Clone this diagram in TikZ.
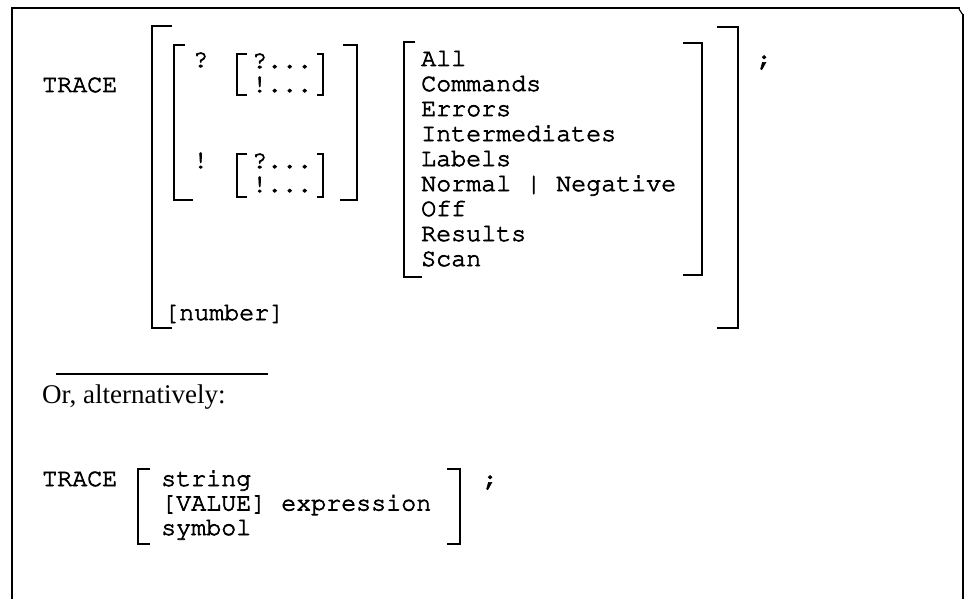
\documentclass[tikz,border=0pt]{standalone}
\usepackage[T1]{fontenc}
\usepackage{fontspec}
\setmainfont{Liberation Serif}
\newcommand{\courfam}{\fontencoding{T1}\fontfamily{pcr}\fontseries{m}\fontshape{n}}
\newcommand{\heavyon}{\special{pdf:literal direct 2 Tr 0.7 w}}
\newcommand{\heavyoff}{\special{pdf:literal direct 0 Tr}}
\begin{document}
\begin{tikzpicture}[x=1pt,y=-1pt,
  code/.style={font=\courfam\fontsize{25}{25}\selectfont, anchor=base west, inner sep=0pt,
    execute at begin node=\heavyon, execute at end node=\heavyoff},
  prose/.style={font=\fontsize{27}{27}\selectfont, anchor=base west, inner sep=0pt},
  brk/.style={line width=2.6pt, line cap=butt, line join=miter},
  frameline/.style={line width=2pt}]
\useasboundingbox (0,0) rectangle (965,599);
% frame
\draw[frameline] (12,599) -- (12,8) -- (960,8);
\draw[frameline] (963,14) -- (963,599);
\draw[line width=1.2pt] (959,9) -- (963,15);

% first syntax
\node[code] (trace1) at (42,92) {TRACE};
\draw[brk] (172,26) -- (152,26) -- (152,328) -- (172,328);
\draw[brk] (185,45) -- (174,45) -- (174,200) -- (193,200);
\draw[brk] (343,45) -- (357,45) -- (357,200) -- (340,200);
\node[code] (q) at (193,67) {?};
\node[code] (e) at (193,168) {!};
\draw[brk] (247,54) -- (237,54) -- (237,95) -- (247,95);
\draw[brk] (317,54) -- (323,54) -- (323,95) -- (317,95);
\node[code] (qa) at (252,68) {?...};
\node[code] (ea) at (252,92) {!...};
\draw[brk] (247,154) -- (237,154) -- (237,197) -- (247,197);
\draw[brk] (317,154) -- (323,154) -- (323,197) -- (317,197);
\node[code] (qb) at (252,168) {?...};
\node[code] (eb) at (252,192) {!...};
\node[code] (num) at (164,320) {[number]};
\draw[brk] (415,42) -- (404,42) -- (404,277) -- (422,277);
\draw[brk] (683,43) -- (702,43) -- (702,275) -- (683,275);
\node[code] (o1) at (421,66) {All};
\node[code] (o2) at (421,91) {Commands};
\node[code] (o3) at (421,116) {Errors};
\node[code] (o4) at (421,141) {Intermediates};
\node[code] (o5) at (421,166) {Labels};
\node[code] (o6) at (421,191) {Normal | Negative};
\node[code] (o7) at (421,216) {Off};
\node[code] (o8) at (421,241) {Results};
\node[code] (o9) at (421,266) {Scan};
\draw[brk] (717,27) -- (738,27) -- (738,328) -- (717,328);
\node[code] (semi1) at (757,66) {;};

% separator
\draw[line width=1.2pt] (56,374) -- (268,374);
\node[prose] (alt) at (42,403) {Or, alternatively:};

% second syntax
\node[code] (trace2) at (42,486) {TRACE};
\draw[brk] (150,469) -- (138,469) -- (138,544) -- (150,544);
\draw[brk] (447,469) -- (460,469) -- (460,544) -- (447,544);
\node[code] (s1) at (161,486) {string};
\node[code] (s2) at (161,510.5) {[VALUE] expression};
\node[code] (s3) at (161,535) {symbol};
\node[code] (semi2) at (483,486) {;};
\end{tikzpicture}
\end{document}
